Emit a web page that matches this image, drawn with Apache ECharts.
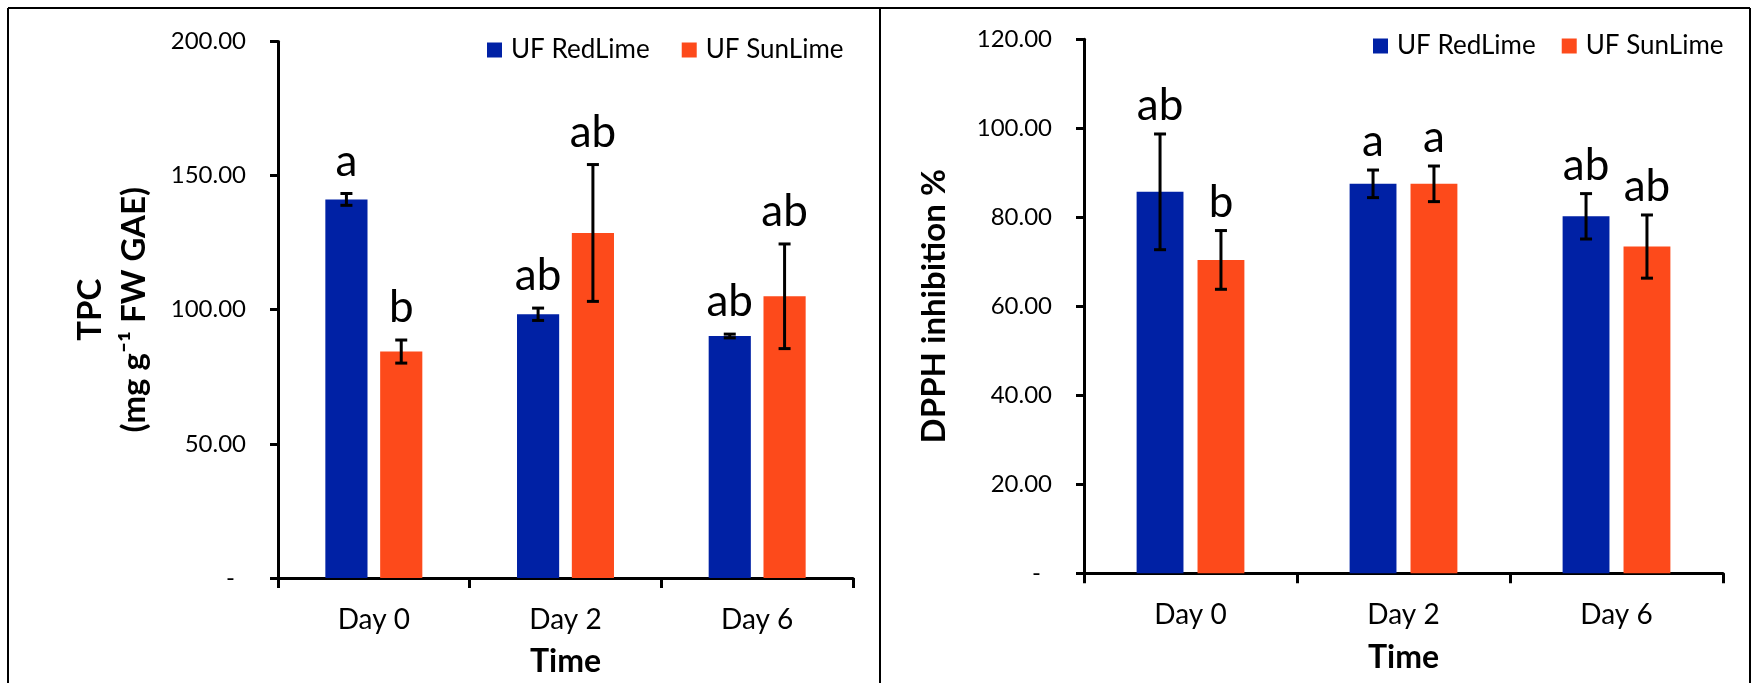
<!DOCTYPE html>
<html>
<head>
<meta charset="utf-8">
<script src="https://cdn.jsdelivr.net/npm/echarts@6/dist/echarts.min.js"></script>
<style>
html,body{margin:0;padding:0;background:#fff;}
#c{width:1752px;height:683px;}
</style>
</head>
<body>
<div id="c"></div>
<script>
// ---- data ----
var categories = ['Day 0', 'Day 2', 'Day 6'];
var seriesNames = ['UF RedLime', 'UF SunLime'];

var tpcRed = [141.1, 98.3, 90.2];
var tpcRedErr = [2.2, 2.3, 0.7];
var tpcRedLetters = ['a', 'ab', 'ab'];
var tpcSun = [84.4, 128.6, 105.0];
var tpcSunErr = [4.3, 25.5, 19.5];
var tpcSunLetters = ['b', 'ab', 'ab'];

var dpphRed = [85.7, 87.5, 80.2];
var dpphRedErr = [13.0, 3.1, 5.1];
var dpphRedLetters = ['ab', 'a', 'ab'];
var dpphSun = [70.4, 87.5, 73.4];
var dpphSunErr = [6.6, 4.0, 7.1];
var dpphSunLetters = ['b', 'a', 'ab'];

var tpcTicks = {min: 0, max: 200, interval: 50};
var dpphTicks = {min: 0, max: 120, interval: 20};

// ---- styling ----
var FONT = 'Lato';
var BLUE = '#0021a5';
var ORANGE = '#fd4a1b';
var BAR_W = 0.22, BAR_GAP = 0.30;

function errData(vals, errs) {
  return vals.map(function (v, i) { return [i, v, errs[i]]; });
}

function errRender(side, labelGap, letters) {
  return function (params, api) {
    var i = api.value(0), v = api.value(1), e = api.value(2);
    var letter = letters[params.dataIndex];
    var band = api.size([1, 0])[0];
    var bw = band * BAR_W, gap = bw * BAR_GAP;
    var off = side * (bw + gap) / 2;
    var top = api.coord([i, v + e]);
    var bot = api.coord([i, v - e]);
    var x = top[0] + off;
    var cap = 6;
    var st = {stroke: '#000', lineWidth: 3};
    return {
      type: 'group',
      children: [
        {type: 'line', shape: {x1: x, y1: top[1], x2: x, y2: bot[1]}, style: st},
        {type: 'line', shape: {x1: x - cap, y1: top[1], x2: x + cap, y2: top[1]}, style: st},
        {type: 'line', shape: {x1: x - cap, y1: bot[1], x2: x + cap, y2: bot[1]}, style: st},
        {type: 'text', x: x, y: top[1] - labelGap,
          style: {text: letter, fill: '#000', fontSize: 44, fontFamily: FONT, align: 'center', verticalAlign: 'bottom'}}
      ]
    };
  };
}

function yLabel(v) {
  if (v === 0) return '{d|-}';
  return v.toFixed(2);
}

function xAxis(idx, gi) {
  return {
    type: 'category', gridIndex: gi, data: categories,
    axisLine: {lineStyle: {color: '#000', width: 3}},
    axisTick: {show: true, length: 10, lineStyle: {color: '#000', width: 3}},
    axisLabel: {color: '#000', fontSize: 28, fontFamily: FONT, margin: 28},
    name: 'Time', nameLocation: 'middle', nameGap: 68,
    nameTextStyle: {color: '#000', fontSize: 32, fontWeight: 'bold', fontFamily: FONT}
  };
}

function yAxis(gi, ticks, name, nameGap, fs) {
  return {
    type: 'value', gridIndex: gi, min: ticks.min, max: ticks.max, interval: ticks.interval,
    splitLine: {show: false},
    axisLine: {show: true, lineStyle: {color: '#000', width: 3}},
    axisTick: {show: true, length: 8, lineStyle: {color: '#000', width: 3}},
    axisLabel: {color: '#000', fontSize: 24, fontFamily: FONT, margin: 32, formatter: yLabel,
      rich: {d: {fontSize: 24, fontFamily: FONT, color: '#000', padding: [0, 11, 0, 0]}}},
    name: name, nameLocation: 'middle', nameGap: nameGap, nameRotate: 90,
    nameTextStyle: {color: '#000', fontSize: fs, fontWeight: 'bold', fontFamily: FONT, lineHeight: 44, align: 'center'}
  };
}

var chart = echarts.init(document.getElementById('c'), null, {renderer: 'canvas'});

var option = {
  backgroundColor: '#fff',
  animation: false,
  textStyle: {fontFamily: FONT},
  grid: [
    {left: 278, top: 41.4, width: 575, height: 537},
    {left: 1084, top: 39.2, width: 639, height: 534}
  ],
  legend: [
    {data: seriesNames, left: 482, top: 32, itemWidth: 15, itemHeight: 15, itemGap: 32,
      icon: 'rect', textStyle: {color: '#000', fontSize: 26, fontFamily: FONT, padding: [0, 0, 0, 4]}},
    {data: seriesNames.map(function (n) { return {name: n}; }), left: 1368, top: 28, itemWidth: 15, itemHeight: 15, itemGap: 26,
      icon: 'rect', textStyle: {color: '#000', fontSize: 26, fontFamily: FONT, padding: [0, 0, 0, 4]}}
  ],
  xAxis: [xAxis(0, 0), xAxis(1, 1)],
  yAxis: [
    yAxis(0, tpcTicks, 'TPC\n(mg g\u207B\u00B9 FW GAE)', 122, 33),
    yAxis(1, dpphTicks, 'DPPH inhibition %', 128, 33)
  ],
  series: [
    {name: seriesNames[0], type: 'bar', xAxisIndex: 0, yAxisIndex: 0, data: tpcRed,
      barWidth: (BAR_W * 100) + '%', barGap: (BAR_GAP * 100) + '%', itemStyle: {color: BLUE}},
    {name: seriesNames[1], type: 'bar', xAxisIndex: 0, yAxisIndex: 0, data: tpcSun,
      barWidth: (BAR_W * 100) + '%', barGap: (BAR_GAP * 100) + '%', itemStyle: {color: ORANGE}},
    {name: seriesNames[0], type: 'bar', xAxisIndex: 1, yAxisIndex: 1, data: dpphRed,
      barWidth: (BAR_W * 100) + '%', barGap: (BAR_GAP * 100) + '%', itemStyle: {color: BLUE}},
    {name: seriesNames[1], type: 'bar', xAxisIndex: 1, yAxisIndex: 1, data: dpphSun,
      barWidth: (BAR_W * 100) + '%', barGap: (BAR_GAP * 100) + '%', itemStyle: {color: ORANGE}},
    {type: 'custom', xAxisIndex: 0, yAxisIndex: 0, renderItem: errRender(-1, 10, tpcRedLetters), data: errData(tpcRed, tpcRedErr), z: 5},
    {type: 'custom', xAxisIndex: 0, yAxisIndex: 0, renderItem: errRender(1, 10, tpcSunLetters), data: errData(tpcSun, tpcSunErr), z: 5},
    {type: 'custom', xAxisIndex: 1, yAxisIndex: 1, renderItem: errRender(-1, 6, dpphRedLetters), data: errData(dpphRed, dpphRedErr), z: 5},
    {type: 'custom', xAxisIndex: 1, yAxisIndex: 1, renderItem: errRender(1, 6, dpphSunLetters), data: errData(dpphSun, dpphSunErr), z: 5}
  ],
  graphic: [
    {type: 'line', shape: {x1: 8, y1: 8, x2: 1750, y2: 8}, style: {stroke: '#000', lineWidth: 2}},
    {type: 'line', shape: {x1: 8, y1: 8, x2: 8, y2: 683}, style: {stroke: '#000', lineWidth: 2}},
    {type: 'line', shape: {x1: 880, y1: 8, x2: 880, y2: 683}, style: {stroke: '#000', lineWidth: 2}},
    {type: 'line', shape: {x1: 1750, y1: 8, x2: 1750, y2: 683}, style: {stroke: '#000', lineWidth: 2}}
  ]
};
chart.setOption(option);
</script>
</body>
</html>
